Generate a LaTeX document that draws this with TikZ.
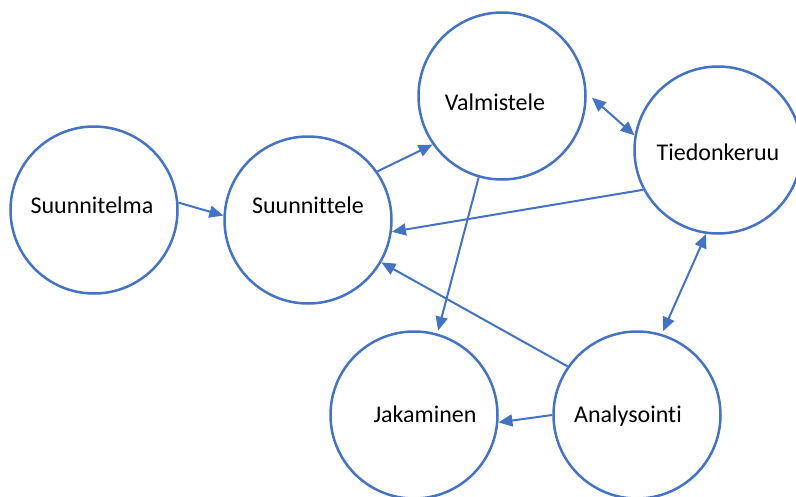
\documentclass[tikz,border=0pt]{standalone}
\usepackage{fontspec}
\setmainfont{Carlito}[Ligatures={NoCommon,NoContextual}]
\usetikzlibrary{arrows.meta}
\definecolor{wblue}{RGB}{68,114,196}
\tikzset{
  ring/.style={circle,draw=wblue,line width=2.5pt,minimum size=167pt,inner sep=0pt,fill=white},
  lbl/.style={anchor=base,font=\fontsize{24}{28}\selectfont,inner sep=0pt},
  conn/.style={draw=wblue,line width=2pt,-{Triangle[length=14pt,width=12pt]}},
  bconn/.style={draw=wblue,line width=2pt,{Triangle[length=14pt,width=12pt]}-{Triangle[length=14pt,width=12pt]}}
}
\begin{document}
\begin{tikzpicture}[x=1pt,y=-1pt]
\useasboundingbox (0,0) rectangle (796,496);
\clip (0,0) rectangle (796,496);
\node[ring] (sa) at (94,210) {};
\node[ring] (se) at (308,220) {};
\node[ring] (v) at (502,96) {};
\node[ring] (t) at (718,150) {};
\node[ring] (j) at (414,415) {};
\node[ring] (a) at (637,415) {};
\node[lbl] (tsa) at (92,213) {Suunnitelma};
\node[lbl] (tse) at (308,213) {Suunnittele};
\node[lbl] (tv) at (495,110) {Valmistele};
\node[lbl] (tt) at (718,160) {Tiedonkeruu};
\node[lbl] (tj) at (425,422) {Jakaminen};
\node[lbl] (ta) at (628,422) {Analysointi};
\draw[conn] (sa.5) -- (se.177);
\draw[conn] (se.35) -- (v.215);
\draw[bconn,shorten <=7pt] (v.2) -- (t.170);
\draw[conn] (t.208) -- (se.-8);
\draw[conn,shorten >=3pt] (v.254) -- (j.74);
\draw[conn] (a.145) -- (se.-30);
\draw[bconn,shorten >=3pt] (t.262.5) -- (a.73.6);
\draw[conn] (a.180) -- (j.-5);
\end{tikzpicture}
\end{document}
